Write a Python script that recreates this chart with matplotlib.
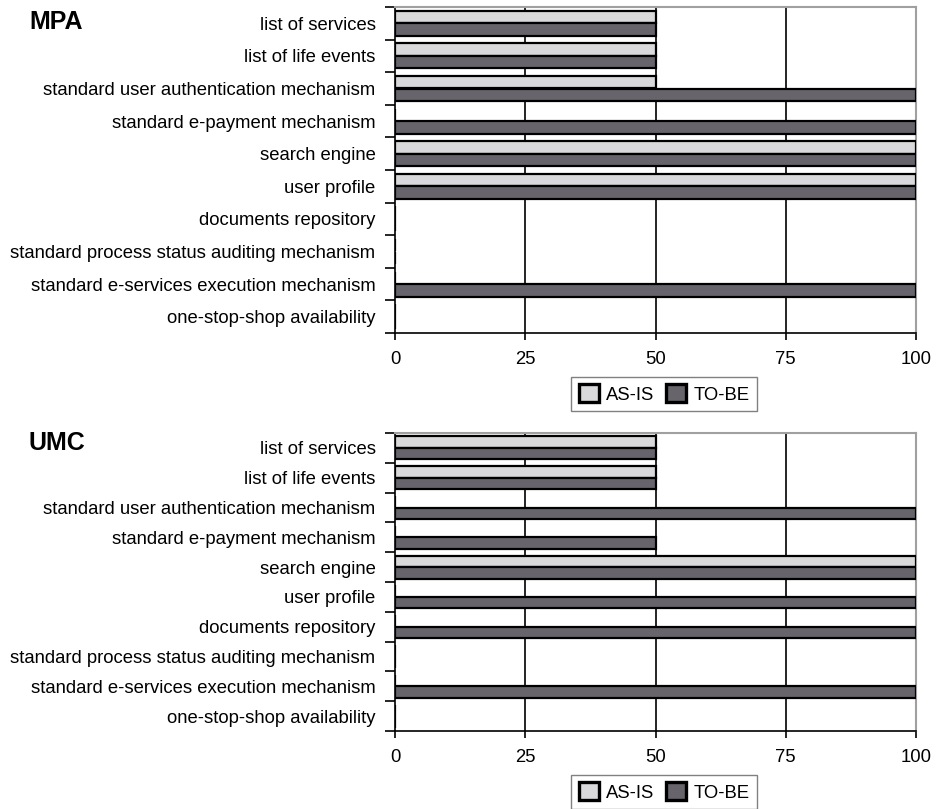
import matplotlib
matplotlib.use("Agg")
import matplotlib.pyplot as plt
import numpy as np
from matplotlib.patches import Patch

plt.rcParams['font.family'] = ['Liberation Sans', 'DejaVu Sans']

categories = [
    "list of services",
    "list of life events",
    "standard user authentication mechanism",
    "standard e-payment mechanism",
    "search engine",
    "user profile",
    "documents repository",
    "standard process status auditing mechanism",
    "standard e-services execution mechanism",
    "one-stop-shop availability",
]

mpa_as_is = [50, 50, 50, 0, 100, 100, 0, 0, 0, 0]
mpa_to_be = [50, 50, 100, 100, 100, 100, 0, 0, 100, 0]

umc_as_is = [50, 50, 0, 0, 100, 0, 0, 0, 0, 0]
umc_to_be = [50, 50, 100, 50, 100, 100, 100, 0, 100, 0]

x_ticks = [0, 25, 50, 75, 100]
series_labels = ["AS-IS", "TO-BE"]

LIGHT = "#d9d9db"
DARK = "#67656b"
GRAY = "#a0a0a0"
FS = 13.3

W, H = 943, 809
fig = plt.figure(figsize=(W / 100, H / 100), dpi=100)


def px_axes(left, top, right, bottom):
    return fig.add_axes([left / W, 1 - bottom / H, (right - left) / W, (bottom - top) / H])


def draw_panel(ax, title, as_is, to_be, title_y, legend_y):
    n = len(categories)
    y = np.arange(n)
    h = 0.385
    ax.barh(y - h / 2, as_is, height=h, color=LIGHT, edgecolor="black", linewidth=1.6, zorder=3)
    ax.barh(y + h / 2, to_be, height=h, color=DARK, edgecolor="black", linewidth=1.6, zorder=3)

    ax.set_xlim(0, 100)
    ax.set_ylim(n - 0.5, -0.5)
    ax.set_xticks(x_ticks)
    ax.set_xticklabels([str(t) for t in x_ticks], fontsize=FS)
    ax.tick_params(axis="x", direction="out", length=5, width=1.2, pad=8, colors="black")

    ax.set_yticks(y)
    ax.set_yticklabels(categories, fontsize=FS)
    ax.tick_params(axis="y", which="major", length=0, pad=14)
    ax.set_yticks(np.arange(n + 1) - 0.5, minor=True)
    ax.tick_params(axis="y", which="minor", direction="out", length=7, width=1.2)

    for v in [25, 50, 75]:
        ax.axvline(v, color="black", linewidth=1.2, zorder=1)

    ax.spines["left"].set_color("black")
    ax.spines["left"].set_linewidth(1.2)
    ax.spines["bottom"].set_color("black")
    ax.spines["bottom"].set_linewidth(1.2)
    ax.spines["top"].set_color(GRAY)
    ax.spines["top"].set_linewidth(1.5)
    ax.spines["right"].set_color(GRAY)
    ax.spines["right"].set_linewidth(1.5)

    fig.text(29 / W, 1 - title_y / H, title, fontsize=18, fontweight="bold",
             ha="left", va="center")

    handles = [Patch(facecolor=LIGHT, edgecolor="black", linewidth=2.4),
               Patch(facecolor=DARK, edgecolor="black", linewidth=2.4)]
    fig.legend(handles, series_labels, loc="center",
               bbox_to_anchor=(664 / W, 1 - legend_y / H), ncol=2, fontsize=FS,
               frameon=True, fancybox=False, edgecolor="#808080",
               handlelength=1.1, handleheight=1.1, handletextpad=0.4,
               columnspacing=0.6, borderpad=0.4, framealpha=1)


ax1 = px_axes(395, 7, 916, 333)
draw_panel(ax1, "MPA", mpa_as_is, mpa_to_be, 22, 394)

ax2 = px_axes(395, 433, 916, 731)
draw_panel(ax2, "UMC", umc_as_is, umc_to_be, 443, 792)

fig.savefig("out.png", dpi=100)
